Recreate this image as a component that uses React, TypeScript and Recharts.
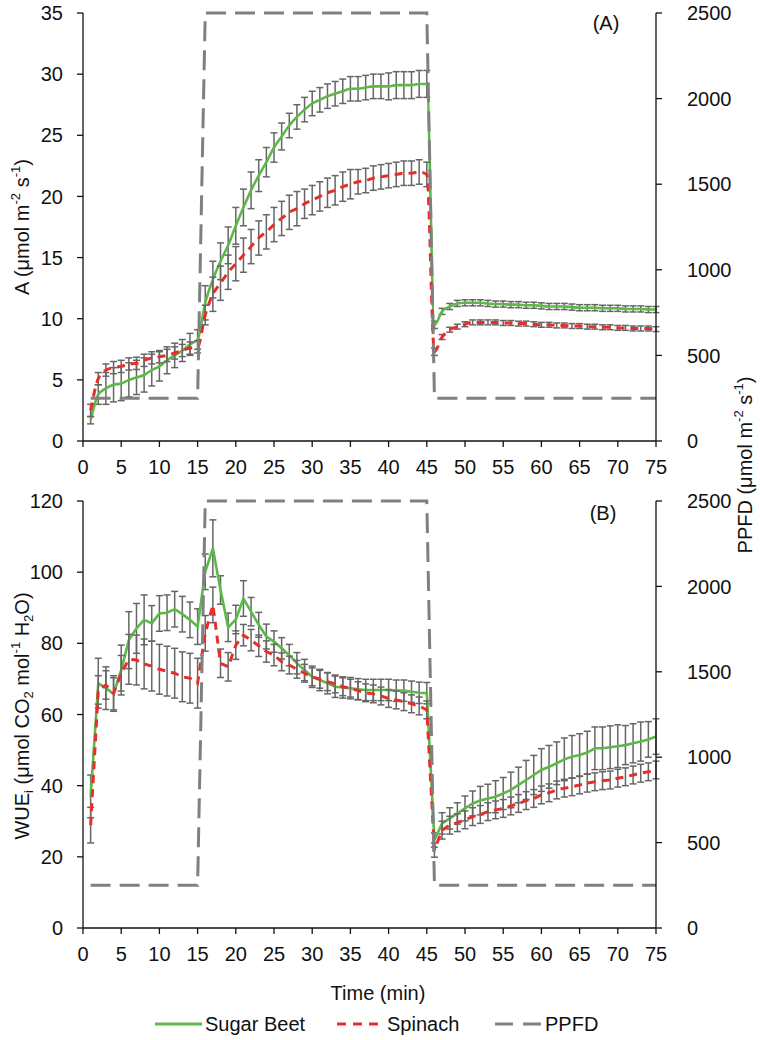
import React from "react";
import {
  ComposedChart,
  Line,
  XAxis,
  YAxis,
  ErrorBar,
} from "recharts";

// minutes after start of measurement (one reading per minute)
const TIME = [
  1, 2, 3, 4, 5, 6, 7, 8, 9, 10, 11, 12, 13, 14, 15,
  16, 17, 18, 19, 20, 21, 22, 23, 24, 25, 26, 27, 28, 29, 30,
  31, 32, 33, 34, 35, 36, 37, 38, 39, 40, 41, 42, 43, 44, 45,
  46, 47, 48, 49, 50, 51, 52, 53, 54, 55, 56, 57, 58, 59, 60,
  61, 62, 63, 64, 65, 66, 67, 68, 69, 70, 71, 72, 73, 74, 75,
];

// (A) net assimilation
const A_BEET = [
  1.7, 3.8, 4.3, 4.6, 4.7, 5.0, 5.2, 5.4, 5.8, 6.1, 6.6, 7.0, 7.4, 7.9, 8.3,
  11.3, 13.2, 14.7, 16.0, 17.6, 19.1, 20.5, 21.7, 22.8, 24.0, 24.9, 25.8, 26.5, 27.1, 27.6,
  27.9, 28.2, 28.4, 28.6, 28.8, 28.8, 28.9, 29.0, 29.0, 29.0, 29.1, 29.1, 29.1, 29.2, 29.2,
  9.5, 10.6, 11.0, 11.25, 11.3, 11.3, 11.3, 11.25, 11.2, 11.2, 11.15, 11.15, 11.1, 11.1, 11.05,
  11.0, 11.0, 11.0, 10.95, 10.9, 10.9, 10.9, 10.85, 10.85, 10.85, 10.8, 10.8, 10.8, 10.75, 10.75,
];
const A_BEET_SE = [
  0.3, 0.8, 1.3, 1.4, 1.4, 1.4, 1.4, 1.4, 1.3, 1.2, 1.1, 1.0, 0.9, 0.9, 0.8,
  1.4, 1.5, 1.5, 1.5, 1.5, 1.5, 1.5, 1.3, 1.2, 1.2, 1.1, 1.0, 1.0, 1.0, 1.0,
  1.0, 1.0, 1.0, 1.0, 1.0, 1.0, 1.0, 1.0, 1.0, 1.1, 1.1, 1.1, 1.1, 1.1, 1.1,
  0.3, 0.25, 0.25, 0.25, 0.25, 0.25, 0.25, 0.25, 0.25, 0.25, 0.25, 0.25, 0.25, 0.25, 0.25,
  0.25, 0.25, 0.25, 0.25, 0.25, 0.25, 0.25, 0.25, 0.25, 0.25, 0.25, 0.25, 0.25, 0.25, 0.25,
];
const A_SPIN = [
  2.5, 5.1, 5.8, 6.0, 6.1, 6.3, 6.35, 6.6, 6.8, 6.9, 7.0, 7.2, 7.4, 7.6, 7.7,
  10.3, 12.0, 12.9, 13.8, 14.5, 15.2, 15.9, 16.6, 17.1, 17.7, 18.2, 18.7, 19.0, 19.4, 19.7,
  20.0, 20.3, 20.5, 20.8, 21.0, 21.2, 21.3, 21.5, 21.6, 21.7, 21.8, 21.9, 21.9, 22.0, 21.8,
  7.3, 8.5, 9.1, 9.35, 9.55, 9.7, 9.7, 9.7, 9.7, 9.65, 9.65, 9.6, 9.6, 9.55, 9.5,
  9.5, 9.45, 9.45, 9.4, 9.4, 9.35, 9.35, 9.3, 9.3, 9.25, 9.25, 9.2, 9.2, 9.2, 9.15,
];
const A_SPIN_SE = [
  0.5, 0.5, 0.5, 0.5, 0.5, 0.5, 0.5, 0.5, 0.5, 0.5, 0.5, 0.5, 0.5, 0.5, 0.5,
  0.8, 1.4, 1.4, 1.4, 1.4, 1.4, 1.4, 1.4, 1.4, 1.4, 1.4, 1.4, 1.4, 1.2, 1.2,
  1.2, 1.2, 1.2, 1.2, 1.2, 1.0, 1.0, 1.0, 1.0, 1.0, 1.0, 1.0, 1.0, 1.0, 1.0,
  0.3, 0.2, 0.2, 0.2, 0.2, 0.2, 0.2, 0.2, 0.2, 0.2, 0.2, 0.2, 0.2, 0.2, 0.2,
  0.2, 0.2, 0.2, 0.2, 0.2, 0.2, 0.2, 0.2, 0.2, 0.2, 0.2, 0.2, 0.2, 0.2, 0.2,
];

// (B) intrinsic water use efficiency
const B_BEET = [
  37.0, 68.8, 67.4, 65.8, 72.5, 80.9, 84.2, 86.6, 85.6, 88.4, 88.6, 89.6, 88.2, 86.6, 84.7,
  100.1, 106.7, 95.0, 84.5, 86.7, 92.6, 88.9, 85.2, 81.9, 80.5, 78.6, 76.7, 74.4, 72.5, 70.6,
  69.7, 68.8, 67.8, 67.6, 67.4, 67.1, 66.9, 66.9, 66.9, 66.9, 66.7, 66.7, 66.4, 66.1, 66.0,
  24.7, 29.4, 30.8, 32.2, 33.6, 35.0, 35.8, 36.4, 36.9, 37.8, 38.8, 40.2, 41.6, 43.0, 44.4,
  45.3, 46.3, 47.4, 48.1, 48.6, 49.3, 50.5, 50.5, 50.8, 51.1, 51.4, 51.9, 52.4, 53.0, 53.8,
];
const B_BEET_SE = [
  6, 7, 6, 4.5, 7, 8, 7, 7, 5, 5, 5, 5, 5, 5, 5,
  5, 8, 4, 4, 4, 5, 4, 3.5, 3.5, 3, 3, 3, 3, 3, 3,
  3, 3, 3, 3, 3, 3, 3, 3, 3, 3, 3, 3, 3, 3, 3,
  2, 3, 3, 3, 3.5, 3.5, 4, 4, 4.5, 4.5, 5, 5, 5.5, 5.5, 6,
  6, 6, 6, 6, 6, 6, 6, 6, 6, 6, 5.5, 5.5, 5.5, 5, 5,
];
const B_SPIN = [
  28.9, 66.9, 68.3, 65.9, 71.6, 75.5, 75.3, 74.2, 73.6, 72.7, 72.2, 71.6, 70.6, 70.2, 68.8,
  82.8, 90.8, 74.4, 73.4, 79.5, 82.3, 80.9, 79.3, 77.7, 76.7, 74.8, 73.9, 72.7, 71.6, 70.6,
  69.9, 69.2, 68.6, 67.8, 67.4, 66.7, 66.1, 65.8, 65.2, 64.5, 64.1, 63.6, 63.0, 62.4, 61.3,
  21.9, 27.5, 28.9, 29.6, 30.4, 31.3, 31.9, 32.7, 33.2, 33.6, 34.3, 35.0, 35.8, 36.4, 37.4,
  38.0, 38.8, 39.3, 39.7, 40.2, 40.7, 41.1, 41.4, 41.6, 42.1, 42.5, 43.0, 43.5, 43.9, 44.4,
];
const B_SPIN_SE = [
  5, 4, 4, 5, 5, 7, 7, 7, 7, 7, 7, 7, 7, 7, 7,
  5, 5, 4, 4, 4, 3, 3, 3, 3, 3, 2.5, 2.5, 2.5, 2.5, 2.5,
  2.5, 2.5, 2.5, 2.5, 2.5, 2.5, 2.5, 2.5, 2.5, 2.5, 2.5, 2.5, 2.5, 2.5, 2.5,
  2, 2.5, 2.5, 2.5, 2.5, 2.5, 2.5, 2.5, 2.5, 2.5, 2.5, 2.5, 2.5, 2.5, 2.5,
  2.5, 2.5, 2.5, 2.5, 2.5, 2.5, 2.5, 2.5, 2.5, 2.5, 2.5, 2.5, 2.5, 2.5, 2.5,
];

// light protocol (step changes)
const PPFD_TIME = [1, 15, 16, 45, 46, 75];
const PPFD_VALUE = [250, 250, 2500, 2500, 250, 250];

const X_TICKS = [0, 5, 10, 15, 20, 25, 30, 35, 40, 45, 50, 55, 60, 65, 70, 75];
const A_TICKS = [0, 5, 10, 15, 20, 25, 30, 35];
const B_TICKS = [0, 20, 40, 60, 80, 100, 120];
const PPFD_TICKS = [0, 500, 1000, 1500, 2000, 2500];

const FONT = "'Liberation Sans', Arial, Helvetica, sans-serif";
const GREEN = "#5cb847";
const RED = "#e3302c";
const GREY = "#808080";
const BAR = "#666666";
const INK = "#111111";

function buildRows(beet: number[], beetSe: number[], spin: number[], spinSe: number[]) {
  return TIME.map((t, i) => {
    const k = PPFD_TIME.indexOf(t);
    return {
      t,
      beet: beet[i],
      beetSe: beetSe[i],
      spin: spin[i],
      spinSe: spinSe[i],
      ppfd: k >= 0 ? PPFD_VALUE[k] : undefined,
    };
  });
}

const tick = { fontSize: 20, fill: INK, fontFamily: FONT };
const axisLine = { stroke: INK, strokeWidth: 1.3 };

interface PanelProps {
  rows: ReturnType<typeof buildRows>;
  yMax: number;
  yTicks: number[];
  curve: "monotone" | "linear";
  top: number;
  height: number;
  marginTop: number;
  plotHeight: number;
}

function Panel({ rows, yMax, yTicks, curve, top, height, marginTop, plotHeight }: PanelProps) {
  return (
    <div style={{ position: "absolute", left: 0, top }}>
      <ComposedChart
        width={760}
        height={height}
        data={rows}
        margin={{ top: marginTop, right: 0, bottom: height - 30 - marginTop - plotHeight, left: 0 }}
      >
        <XAxis
          dataKey="t"
          type="number"
          domain={[0, 75]}
          ticks={X_TICKS}
          interval={0}
          height={30}
          tick={tick}
          tickSize={6}
          tickMargin={13}
          axisLine={axisLine}
          tickLine={axisLine}
        />
        <YAxis
          yAxisId="left"
          orientation="left"
          domain={[0, yMax]}
          ticks={yTicks}
          interval={0}
          width={83}
          tick={{ ...tick, dx: -2 }}
          tickSize={6}
          tickMargin={12}
          axisLine={axisLine}
          tickLine={axisLine}
        />
        <YAxis
          yAxisId="ppfd"
          orientation="right"
          domain={[0, 2500]}
          ticks={PPFD_TICKS}
          interval={0}
          width={104}
          tick={{ ...tick, dx: 12 }}
          tickSize={6}
          tickMargin={13}
          axisLine={axisLine}
          tickLine={axisLine}
        />
        <Line
          yAxisId="left"
          type={curve}
          dataKey="beet"
          stroke={GREEN}
          strokeWidth={2.6}
          dot={false}
          isAnimationActive={false}
        >
          <ErrorBar dataKey="beetSe" width={3.5} stroke={BAR} strokeWidth={1.5} direction="y" />
        </Line>
        <Line
          yAxisId="left"
          type={curve}
          dataKey="spin"
          stroke={RED}
          strokeWidth={3}
          strokeDasharray="8 6"
          dot={false}
          isAnimationActive={false}
        >
          <ErrorBar dataKey="spinSe" width={3.5} stroke={BAR} strokeWidth={1.5} direction="y" />
        </Line>
        <Line
          yAxisId="ppfd"
          type="linear"
          dataKey="ppfd"
          stroke={GREY}
          strokeWidth={3}
          strokeDasharray="20 9"
          dot={false}
          connectNulls
          isAnimationActive={false}
        />
      </ComposedChart>
    </div>
  );
}

export default function App() {
  const rowsA = buildRows(A_BEET, A_BEET_SE, A_SPIN, A_SPIN_SE);
  const rowsB = buildRows(B_BEET, B_BEET_SE, B_SPIN, B_SPIN_SE);

  return (
    <div
      style={{
        position: "absolute",
        left: 0,
        top: 0,
        width: 760,
        height: 1040,
        background: "#fff",
        fontFamily: FONT,
      }}
    >
      <Panel rows={rowsA} yMax={35} yTicks={A_TICKS} curve="monotone" top={0} height={480} marginTop={13} plotHeight={428} />
      <Panel rows={rowsB} yMax={120} yTicks={B_TICKS} curve="linear" top={480} height={560} marginTop={21} plotHeight={427} />

      <svg
        width={760}
        height={1040}
        style={{ position: "absolute", left: 0, top: 0, pointerEvents: "none" }}
        fontFamily={FONT}
        fontSize={20}
        fill={INK}
      >
        <text x={606} y={23} textAnchor="middle" dominantBaseline="central">(A)</text>
        <text x={603} y={513} textAnchor="middle" dominantBaseline="central">(B)</text>

        <text transform="translate(22,227) rotate(-90)" textAnchor="middle" dominantBaseline="central">
          A (μmol m<tspan dy={-7} fontSize={13}>-2</tspan>
          <tspan dy={7}> s</tspan>
          <tspan dy={-7} fontSize={13}>-1</tspan>
          <tspan dy={7}>)</tspan>
        </text>

        <text transform="translate(22,716) rotate(-90)" textAnchor="middle" dominantBaseline="central">
          WUE<tspan dy={6} fontSize={13}>i</tspan>
          <tspan dy={-6}> (μmol CO</tspan>
          <tspan dy={6} fontSize={13}>2</tspan>
          <tspan dy={-6}> mol</tspan>
          <tspan dy={-7} fontSize={13}>-1</tspan>
          <tspan dy={7}> H</tspan>
          <tspan dy={6} fontSize={13}>2</tspan>
          <tspan dy={-6}>O)</tspan>
        </text>

        <text transform="translate(745,465) rotate(-90)" textAnchor="middle" dominantBaseline="central">
          PPFD (μmol m<tspan dy={-7} fontSize={13}>-2</tspan>
          <tspan dy={7}> s</tspan>
          <tspan dy={-7} fontSize={13}>-1</tspan>
          <tspan dy={7}>)</tspan>
        </text>

        <text x={378} y={993} textAnchor="middle" dominantBaseline="central">Time (min)</text>

        <line x1={155} y1={1024} x2={202} y2={1024} stroke={GREEN} strokeWidth={3} />
        <text x={205} y={1024} dominantBaseline="central">Sugar Beet</text>
        <line x1={337} y1={1024} x2={384} y2={1024} stroke={RED} strokeWidth={3} strokeDasharray="9 7" />
        <text x={387} y={1024} dominantBaseline="central">Spinach</text>
        <line x1={495} y1={1024} x2={541} y2={1024} stroke={GREY} strokeWidth={3} strokeDasharray="18 10" />
        <text x={545} y={1024} dominantBaseline="central">PPFD</text>
      </svg>
    </div>
  );
}
